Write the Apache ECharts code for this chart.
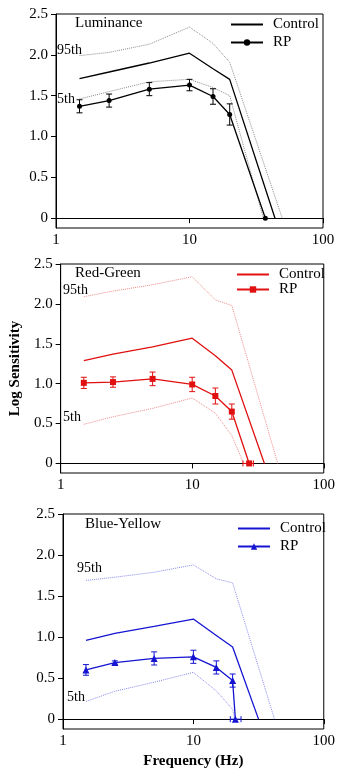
<!DOCTYPE html>
<html>
<head>
<meta charset="utf-8">
<script src="https://cdn.jsdelivr.net/npm/echarts@6/dist/echarts.min.js"></script>
<style>
  html, body { margin: 0; padding: 0; background: #fff; }
  #chart { width: 338px; height: 771px; }
</style>
</head>
<body>
<div id="chart"></div>
<script>
// tested frequencies (Hz)
const freqs = [1.5, 2.5, 5, 10, 15, 20];
const yTicks = [0, 0.5, 1, 1.5, 2, 2.5];
const xTicks = [1, 10, 100];

// Luminance
const lumCtrlX = [1.5, 2.5, 5, 10, 15, 20, 43.7];
const lumCtrlY = [1.71, 1.79, 1.90, 2.02, 1.83, 1.70, 0];
const lum95X = [1.5, 2.5, 5, 10, 15, 20, 49.5];
const lum95Y = [1.99, 2.03, 2.13, 2.34, 2.14, 1.91, 0];
const lum5X = [1.5, 2.5, 5, 10, 15, 20, 35.7];
const lum5Y = [1.46, 1.55, 1.67, 1.70, 1.60, 1.50, 0];
const lumRpX = [1.5, 2.5, 5, 10, 15, 20, 37];
const lumRpY = [1.37, 1.44, 1.58, 1.63, 1.49, 1.27, 0];
const lumRpErr = [0.08, 0.08, 0.08, 0.07, 0.095, 0.13];

// Red-Green
const rgCtrlX = [1.5, 2.5, 5, 10, 15, 20, 35.4];
const rgCtrlY = [1.29, 1.37, 1.46, 1.57, 1.35, 1.17, 0];
const rg95X = [1.5, 2.5, 5, 10, 15, 20, 44.7];
const rg95Y = [2.09, 2.16, 2.24, 2.34, 2.05, 1.98, 0];
const rg5X = [1.5, 2.5, 5, 10, 15, 20, 24.6];
const rg5Y = [0.49, 0.585, 0.69, 0.82, 0.63, 0.35, 0];
const rgRpX = [1.5, 2.5, 5, 10, 15, 20, 27.1];
const rgRpY = [1.01, 1.02, 1.06, 0.99, 0.845, 0.65, 0];
const rgRpErr = [0.07, 0.065, 0.085, 0.09, 0.1, 0.095];
const rgRpXErr = [24.3, 29.2];

// Blue-Yellow
const byCtrlX = [1.5, 2.5, 5, 10, 15, 20, 31.6];
const byCtrlY = [0.96, 1.045, 1.13, 1.22, 1.02, 0.88, 0];
const by95X = [1.5, 2.5, 5, 10, 15, 20, 41.9];
const by95Y = [1.69, 1.73, 1.79, 1.88, 1.71, 1.66, 0];
const by5X = [1.5, 2.5, 5, 10, 15, 20, 20.7];
const by5Y = [0.215, 0.34, 0.45, 0.57, 0.345, 0.12, 0];
const byRpX = [1.5, 2.5, 5, 10, 15, 20, 21];
const byRpY = [0.60, 0.69, 0.74, 0.76, 0.63, 0.47, 0];
const byRpErr = [0.065, 0.02, 0.08, 0.08, 0.08, 0.08];
const byRpXErr = [19.2, 23.2];

const FONT = "'Liberation Serif', 'Times New Roman', serif";

const zip = (xs, ys) => xs.map((x, i) => [x, ys[i]]);

const panels = [
  { title: 'Luminance', key: 'L', color: '#000000', light: '#8c8c8c', symbol: 'circle', size: 5,
    ctrl: zip(lumCtrlX, lumCtrlY), p95: zip(lum95X, lum95Y), p5: zip(lum5X, lum5Y),
    rpX: lumRpX, rpY: lumRpY, err: lumRpErr, xErr: null },
  { title: 'Red-Green', key: 'RG', color: '#e01010', light: '#f08a8a', symbol: 'rect', size: 6,
    ctrl: zip(rgCtrlX, rgCtrlY), p95: zip(rg95X, rg95Y), p5: zip(rg5X, rg5Y),
    rpX: rgRpX, rpY: rgRpY, err: rgRpErr, xErr: rgRpXErr },
  { title: 'Blue-Yellow', key: 'BY', color: '#1414d2', light: '#8a8aee', symbol: 'triangle', size: 7,
    ctrl: zip(byCtrlX, byCtrlY), p95: zip(by95X, by95Y), p5: zip(by5X, by5Y),
    rpX: byRpX, rpY: byRpY, err: byRpErr, xErr: byRpXErr }
];

const grids = [
  { left: 56, right: 15, top: 14, height: 214 },
  { left: 59, right: 14, top: 264, height: 209 },
  { left: 63, right: 14, top: 514, height: 215 }
];

function vErr(params, api) {
  const lo = api.coord([api.value(0), api.value(1)]);
  const hi = api.coord([api.value(0), api.value(2)]);
  const w = 3;
  const style = { stroke: api.visual('color'), lineWidth: 1 };
  return { type: 'group', children: [
    { type: 'line', shape: { x1: lo[0], y1: lo[1], x2: hi[0], y2: hi[1] }, style },
    { type: 'line', shape: { x1: lo[0] - w, y1: lo[1], x2: lo[0] + w, y2: lo[1] }, style },
    { type: 'line', shape: { x1: hi[0] - w, y1: hi[1], x2: hi[0] + w, y2: hi[1] }, style }
  ] };
}

function hErr(params, api) {
  const a = api.coord([api.value(1), api.value(0)]);
  const b = api.coord([api.value(2), api.value(0)]);
  const w = 3;
  const style = { stroke: api.visual('color'), lineWidth: 1 };
  return { type: 'group', children: [
    { type: 'line', shape: { x1: a[0], y1: a[1], x2: b[0], y2: b[1] }, style },
    { type: 'line', shape: { x1: a[0], y1: a[1] - w, x2: a[0], y2: a[1] + w }, style },
    { type: 'line', shape: { x1: b[0], y1: b[1] - w, x2: b[0], y2: b[1] + w }, style }
  ] };
}

const xAxes = [], yAxes = [], series = [], legends = [];
const legendPos = [
  { left: 230, top: 17, itemGap: 3 },
  { left: 236, top: 267, itemGap: 0 },
  { left: 237, top: 521, itemGap: 3 }
];

panels.forEach((p, i) => {
  xAxes.push({
    type: 'log', logBase: 10, min: 1, max: 100, gridIndex: i,
    axisLine: { lineStyle: { color: '#000', width: 1 } },
    axisTick: { inside: false, length: 5, lineStyle: { color: '#000' } },
    axisLabel: { color: '#000', fontFamily: FONT, fontSize: 15, margin: 5,
      formatter: v => String(Math.round(v)) },
    minorTick: { show: false },
    splitLine: { show: false },
    name: i === 2 ? 'Frequency (Hz)' : '',
    nameLocation: 'middle', nameGap: 25,
    nameTextStyle: { color: '#000', fontFamily: FONT, fontSize: 15, fontWeight: 'bold' }
  });
  yAxes.push({
    type: 'value', min: -0.12, max: 2.5, gridIndex: i,
    axisLine: { show: true, lineStyle: { color: '#000', width: 1 } },
    axisTick: { show: true, length: 5, customValues: yTicks, lineStyle: { color: '#000' } },
    axisLabel: { color: '#000', fontFamily: FONT, fontSize: 15, margin: 8, customValues: yTicks,
      formatter: v => (v === 0 ? '0' : v.toFixed(1)) },
    splitLine: { show: false },
    name: i === 1 ? 'Log Sensitivity' : '',
    nameLocation: 'middle', nameGap: 30,
    nameTextStyle: { color: '#000', fontFamily: FONT, fontSize: 15, fontWeight: 'bold' }
  });

  const ctrlName = 'Control|' + p.key;
  const rpName = 'RP|' + p.key;
  const dotted = { color: p.light, width: 1, type: 'dotted' };

  series.push({ name: ctrlName, type: 'line', xAxisIndex: i, yAxisIndex: i, data: p.ctrl,
    symbol: 'none', lineStyle: { color: p.color, width: 1.3 }, itemStyle: { color: p.color }, z: 3 });
  series.push({ name: '95|' + p.key, type: 'line', xAxisIndex: i, yAxisIndex: i, data: p.p95,
    symbol: 'none', lineStyle: dotted, z: 2 });
  series.push({ name: '5|' + p.key, type: 'line', xAxisIndex: i, yAxisIndex: i, data: p.p5,
    symbol: 'none', lineStyle: dotted, z: 2 });
  series.push({ name: rpName, type: 'line', xAxisIndex: i, yAxisIndex: i, data: zip(p.rpX, p.rpY),
    symbol: p.symbol, symbolSize: p.size, showAllSymbol: true,
    lineStyle: { color: p.color, width: 1.3 }, itemStyle: { color: p.color }, z: 4 });
  series.push({ name: 'errV|' + p.key, type: 'custom', xAxisIndex: i, yAxisIndex: i,
    itemStyle: { color: p.color }, renderItem: vErr, encode: { x: 0, y: [1, 2] }, z: 4,
    data: p.err.map((e, k) => [p.rpX[k], p.rpY[k] - e, p.rpY[k] + e]) });
  if (p.xErr) {
    series.push({ name: 'errH|' + p.key, type: 'custom', xAxisIndex: i, yAxisIndex: i,
      itemStyle: { color: p.color }, renderItem: hErr, encode: { x: [1, 2], y: 0 }, z: 4,
      data: [[p.rpY[6], p.xErr[0], p.xErr[1]]] });
  }

  legends.push(Object.assign({
    orient: 'vertical', padding: 0, itemWidth: 32, itemHeight: 8,
    data: [{ name: ctrlName, itemStyle: { opacity: 0 } }, { name: rpName }],
    selectedMode: false, formatter: n => n.split('|')[0],
    textStyle: { color: '#000', fontFamily: FONT, fontSize: 15, padding: [0, 0, 0, 5] }
  }, legendPos[i]));
});

const textEl = (t, left, top, size) => ({
  type: 'text', left, top, z: 10,
  style: { text: t, fill: '#000', font: size + 'px ' + FONT }
});

const option = {
  animation: false,
  backgroundColor: '#fff',
  grid: grids.map(g => Object.assign({ show: true, borderColor: '#000', borderWidth: 1, backgroundColor: 'transparent' }, g)),
  xAxis: xAxes,
  yAxis: yAxes,
  legend: legends,
  series: series,
  graphic: [
    textEl('Luminance', 75, 16, 15),
    textEl('95th', 57, 43, 14),
    textEl('5th', 57, 92, 14),
    textEl('Red-Green', 75, 266, 15),
    textEl('95th', 63, 283, 14),
    textEl('5th', 63, 410, 14),
    textEl('Blue-Yellow', 85, 517, 15),
    textEl('95th', 77, 561, 14),
    textEl('5th', 67, 690, 14)
  ]
};

const chart = echarts.init(document.getElementById('chart'));
chart.setOption(option);
</script>
</body>
</html>
